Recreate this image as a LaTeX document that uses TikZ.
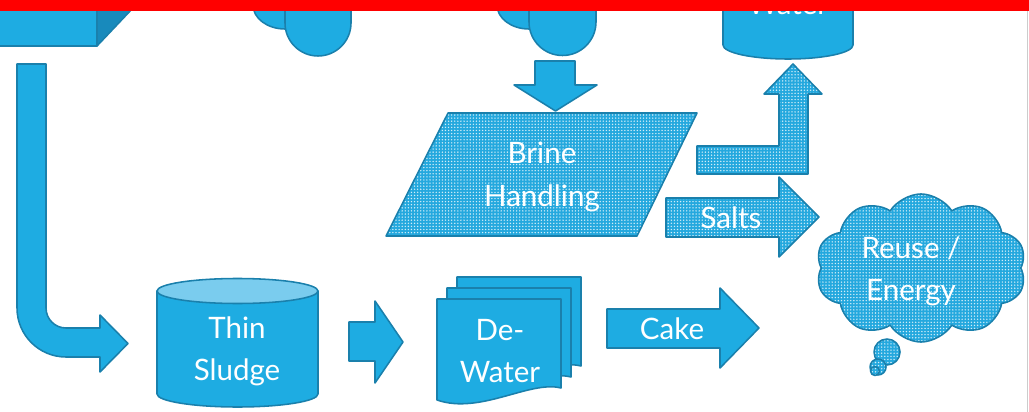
\documentclass[tikz,border=0pt]{standalone}
\usepackage{fontspec}
\setmainfont{Lato}
\usetikzlibrary{positioning, shapes.symbols, patterns.meta}
\definecolor{slideblue}{RGB}{30,172,226}
\definecolor{edgeblue}{RGB}{26,128,172}
\definecolor{sideblue}{RGB}{24,138,188}
\definecolor{topblue}{RGB}{122,204,238}
\definecolor{dotblue}{RGB}{36,168,222}
\tikzset{
  flat/.style={fill=slideblue, draw=edgeblue, line width=1.1pt, line join=round},
  dotfill/.style={draw=edgeblue, line width=1.1pt, line join=round,
    preaction={fill=dotblue}, pattern={Dots[distance=2.2pt, radius=0.55pt]}, pattern color=white!80!dotblue},
  boxtext/.style={text=white, font=\fontsize{21}{30}\selectfont, align=center}
}

\begin{document}
\begin{tikzpicture}[x=0.025cm, y=-0.025cm]
\useasboundingbox (0,0) rectangle (1029,412);
\clip (0,0) rectangle (1029,412);

\path[flat] (-10,-10) rectangle (97,46);
\path[flat, fill=sideblue] (97,46) -- (150,-10) -- (97,-10) -- cycle;

\path[flat] (253,-10) -- (253,5) arc (180:0:32 and 24) -- (317,-10) -- cycle;
\path[flat] (285,-10) -- (285,23) arc (180:0:33) -- (351,-10) -- cycle;
\path[flat] (497,-10) -- (497,5) arc (180:0:32 and 24) -- (561,-10) -- cycle;
\path[flat] (529,-10) -- (529,22) arc (180:0:33.5) -- (596,-10) -- cycle;

\path[flat] (723,-10) -- (723,45) arc (180:0:65 and 14) -- (853,-10) -- cycle;
\node[boxtext, anchor=base] at (788,15) (water) {Water};

\path[flat] (535,61) -- (575,61) -- (575,85) -- (597,85) -- (555.5,111) -- (514,85) -- (535,85) -- cycle;

\path[dotfill] (448,113) -- (697,113) -- (637,236) -- (386,236) -- cycle;
\node[boxtext] at (542,177) (brine) {Brine\\Handling};

\path[dotfill] (697,146) -- (779,146) -- (779,94) -- (764,94) -- (793,64) -- (822,94) -- (808,94) -- (808,174) -- (697,174) -- cycle;

\path[dotfill] (666,198) -- (779,198) -- (779,177) -- (819,217) -- (779,257) -- (779,237) -- (666,237) -- cycle;
\node[boxtext] at (731,218) (salts) {Salts};

\node[cloud, dotfill, cloud puffs=10, cloud puff arc=115, aspect=1.4,
  minimum width=5.25cm, minimum height=3.7cm] at (921,268) (reuse) {};
\node[boxtext] at (911,271) (reusetext) {Reuse /\\Energy};
\path[dotfill] (887,352) circle (13);
\path[dotfill] (878,367) circle (8);
\path[dotfill] (875,371) circle (4.5);

\path[flat] (17,64) -- (46,64) -- (46,308) arc (180:90:20) -- (100,328) -- (100,315) -- (128,343.5)
  -- (100,372) -- (100,357) -- (66,357) arc (90:180:49) -- cycle;

\path[flat] (157,291) -- (157,394) arc (180:0:80.5 and 13) -- (318,291) -- cycle;
\path[flat, fill=topblue] (237.5,291) ellipse (80.5 and 12.5);
\node[boxtext] at (237,351) (sludge) {Thin\\Sludge};

\path[flat] (349,322) -- (375,322) -- (375,301) -- (403,342) -- (375,383) -- (375,361) -- (349,361) -- cycle;

\foreach \dx/\dy in {20/-22, 10/-11, 0/0}
  \path[flat, shift={(\dx,\dy)}] (437,299) -- (561,299) -- (561,388)
    .. controls (530,380) and (480,415) .. (437,400) -- cycle;
\node[boxtext] at (500,351) (dewater) {De-\\Water};

\path[flat] (607,309) -- (720,309) -- (720,288) -- (759,328) -- (720,368) -- (720,348) -- (607,348) -- cycle;
\node[boxtext] at (672,329) (cake) {Cake};

\draw[black!20, line width=0.6pt] (1027,11) -- (1027,412);
\fill[red] (0,0) rectangle (1029,11);
\end{tikzpicture}
\end{document}
